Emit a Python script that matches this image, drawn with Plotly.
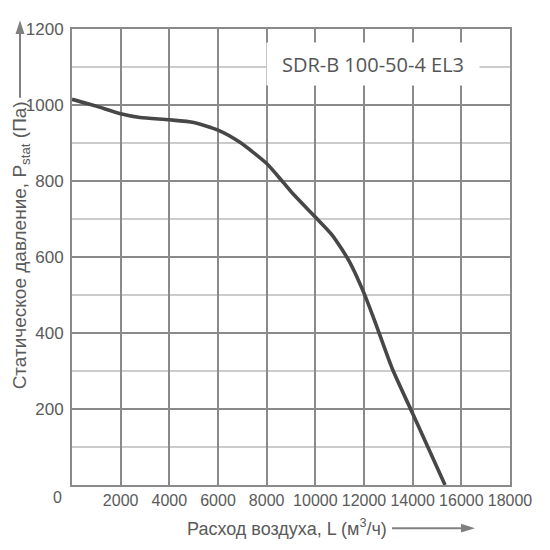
import plotly.graph_objects as go

# Data
flow = [0, 1000, 2000, 2800, 4000, 5000, 6000, 6900, 8000, 8700, 9100,
        10000, 10700, 11400, 12000, 12450, 13150, 14000, 14600, 15330]
pressure = [1015, 997, 977, 967, 961, 954, 934, 902, 846, 795, 765,
            705, 657, 588, 505, 430, 308, 188, 103, 0]
x_ticks = [2000, 4000, 6000, 8000, 10000, 12000, 14000, 16000, 18000]
y_ticks = [200, 400, 600, 800, 1000, 1200]
model_name = "SDR-B 100-50-4 EL3"

major = "#8a8a8a"
minor = "#cccccc"
txt = "#5a5a5a"
arrow_col = "#808080"
font_family = "Liberation Sans, Arial, sans-serif"
narrow_family = "Liberation Sans Narrow, Liberation Sans, Arial, sans-serif"

fig = go.Figure()
fig.add_trace(go.Scatter(
    x=flow, y=pressure, mode="lines",
    line=dict(color="#474747", width=3.6, shape="spline", smoothing=0.6),
    hoverinfo="skip", showlegend=False))

fig.update_xaxes(
    range=[0, 18000], tickvals=x_ticks, ticktext=[str(v) for v in x_ticks],
    showgrid=True, gridcolor=major, gridwidth=2, zeroline=False,
    showline=True, mirror=True, linecolor=major, linewidth=2,
    ticks="", tickfont=dict(family=font_family, size=16, color=txt),
    fixedrange=True)
fig.update_yaxes(
    range=[0, 1200], tickvals=y_ticks, ticktext=[str(v) for v in y_ticks],
    showgrid=True, gridcolor=major, gridwidth=2, zeroline=False,
    minor=dict(dtick=100, showgrid=True, gridcolor=minor, gridwidth=1.5),
    showline=True, mirror=True, linecolor=major, linewidth=2,
    ticks="", ticklabelstandoff=3,
    tickfont=dict(family=narrow_family, size=17, color=txt),
    fixedrange=True)

annotations = [
    dict(x=0, y=0, xref="x", yref="y", text="0", showarrow=False,
         xshift=-15, yshift=-12,
         font=dict(family=font_family, size=16, color=txt)),
    dict(x=0.687, y=0.924, xref="paper", yref="paper", text=model_name,
         xanchor="center", yanchor="middle",
         showarrow=False, bgcolor="white", width=210, height=40,
         font=dict(family="Open Sans, sans-serif", size=20, color="#555555")),
    dict(x=0.49, y=-0.094, xref="paper", yref="paper",
         xanchor="center", yanchor="middle",
         text="Расход воздуха, L (м<sup>3</sup>/ч)", showarrow=False,
         font=dict(family=font_family, size=18, color=txt)),
    dict(x=-0.117, y=0.525, xref="paper", yref="paper", textangle=-90,
         xanchor="center", yanchor="middle",
         text="Статическое давление, P<sub>stat</sub> (Па)", showarrow=False,
         font=dict(family=font_family, size=19, color=txt)),
]

# arrows drawn as shapes (paper coordinates: plot spans 438 x 465 px)
def px(xp):
    return (xp - 72) / 438.0

def py(yp):
    return (485 - yp) / 465.0

shapes = [
    dict(type="line", xref="paper", yref="paper",
         x0=px(20), x1=px(20), y0=py(90), y1=py(22),
         line=dict(color=arrow_col, width=2)),
    dict(type="path", xref="paper", yref="paper",
         path=f"M {px(20)} {py(11)} L {px(15.5)} {py(25)} L {px(24.5)} {py(25)} Z",
         fillcolor=arrow_col, line=dict(color=arrow_col, width=0)),
    dict(type="line", xref="paper", yref="paper",
         x0=px(392), x1=px(464), y0=py(529), y1=py(529),
         line=dict(color=arrow_col, width=2)),
    dict(type="path", xref="paper", yref="paper",
         path=f"M {px(475)} {py(529)} L {px(461)} {py(524.5)} L {px(461)} {py(533.5)} Z",
         fillcolor=arrow_col, line=dict(color=arrow_col, width=0)),
]

fig.update_layout(
    width=542, height=542,
    margin=dict(l=64, r=40, t=12, b=65),
    paper_bgcolor="white", plot_bgcolor="white",
    annotations=annotations, shapes=shapes, showlegend=False)

fig.write_html("out.html")
